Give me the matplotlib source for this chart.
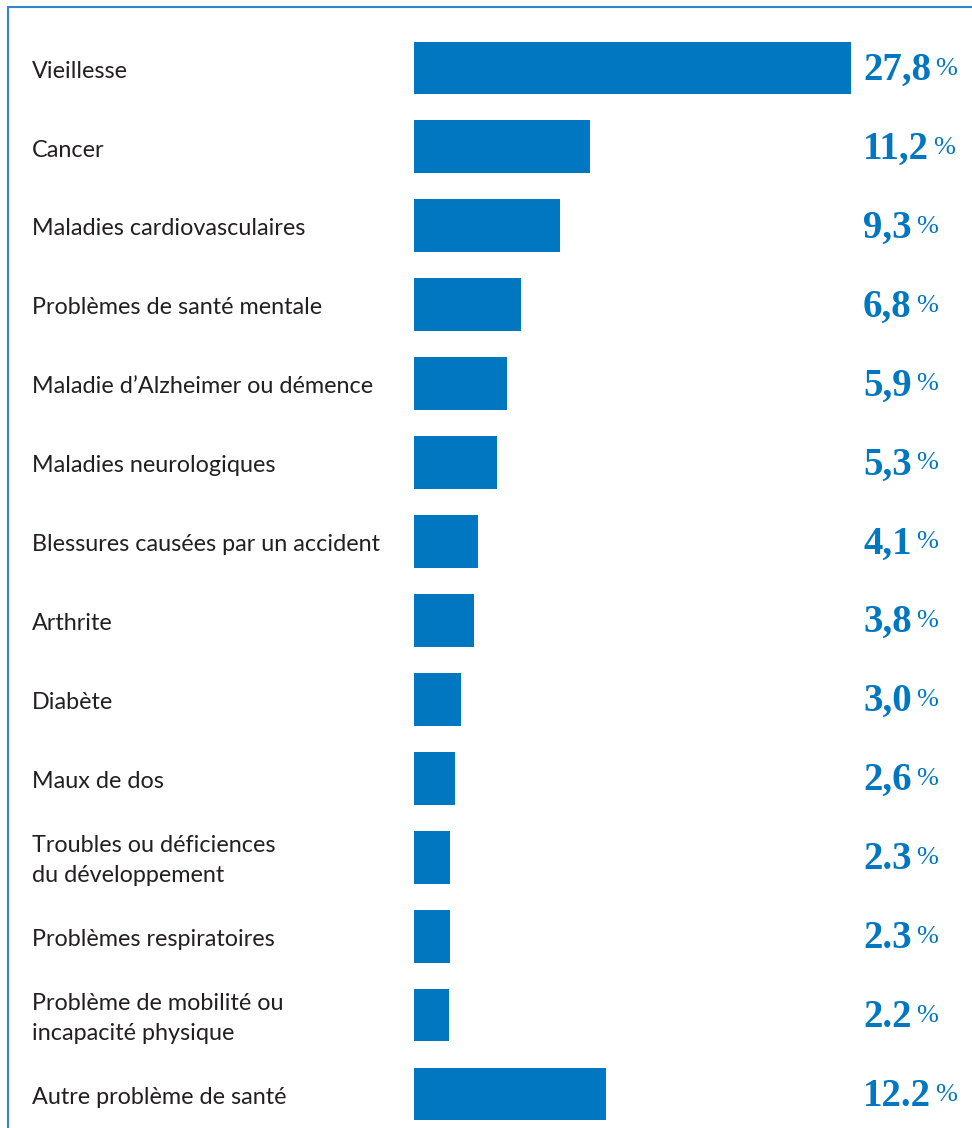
import matplotlib.pyplot as plt
from matplotlib.patches import Rectangle
from matplotlib.transforms import blended_transform_factory

categories = [
    "Vieillesse",
    "Cancer",
    "Maladies cardiovasculaires",
    "Problèmes de santé mentale",
    "Maladie d’Alzheimer ou démence",
    "Maladies neurologiques",
    "Blessures causées par un accident",
    "Arthrite",
    "Diabète",
    "Maux de dos",
    "Troubles ou déficiences\ndu développement",
    "Problèmes respiratoires",
    "Problème de mobilité ou\nincapacité physique",
    "Autre problème de santé",
]
values = [27.8, 11.2, 9.3, 6.8, 5.9, 5.3, 4.1, 3.8, 3.0, 2.6, 2.3, 2.3, 2.2, 12.2]
# decimal mark used in each printed value
separators = [",", ",", ",", ",", ",", ",", ",", ",", ",", ",", ".", ".", ".", "."]

BLUE = "#0077c0"
TEXT = "#231f20"
W, H = 972, 1128

fig = plt.figure(figsize=(W / 100, H / 100), dpi=100)
fig.patch.set_facecolor("white")

# bars start at x=414px, one percent point is ~15.72px wide
ax = fig.add_axes([414 / W, 0, (W - 414) / W, 1])
ax.set_xlim(0, (W - 414) / 15.72)
step = 78.92
ax.set_ylim((H - 68) / step, -68 / step)
ax.axis("off")

ypos = list(range(len(categories)))
ax.barh(ypos, values, height=0.67, color=BLUE, linewidth=0)

label_tf = blended_transform_factory(fig.transFigure, ax.transData)
for y, name, v, sep in zip(ypos, categories, values, separators):
    ax.text(32 / W, y + 0.04, name, transform=label_tf, ha="left", va="center",
            fontsize=16.8, family="Lato", color=TEXT, linespacing=1.55)
    num = ax.text(863 / W, y + 0.03, f"{v:.1f}".replace(".", sep),
                  transform=label_tf, ha="left", va="center",
                  fontsize=28, family="Liberation Serif", fontweight="bold",
                  color=BLUE)
    ax.annotate("%", xy=(1, 0.84), xycoords=num, xytext=(3, 0),
                textcoords="offset points", ha="left", va="top",
                fontsize=19, family="Liberation Serif", color=BLUE)

# thin frame, only the top and left edges fall inside the image
fig.patches.append(Rectangle((7.5 / W, -0.1), 2, 1.1 - 7.5 / H,
                             transform=fig.transFigure, fill=False,
                             edgecolor="#2f86c8", linewidth=1.5))

fig.savefig("out.png", dpi=100)
